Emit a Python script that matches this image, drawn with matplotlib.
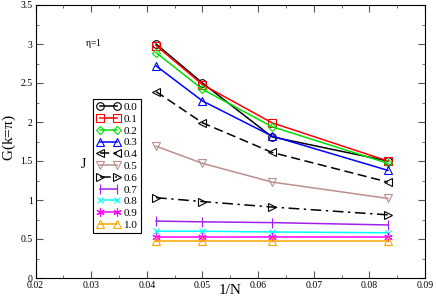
import numpy as np
import matplotlib
matplotlib.use('Agg')
from matplotlib import pyplot as plt
from matplotlib.ticker import MultipleLocator

plt.rcParams['font.family'] = ['Liberation Serif', 'DejaVu Serif']
plt.rcParams['mathtext.fontset'] = 'custom'
plt.rcParams['mathtext.rm'] = 'Liberation Serif'
plt.rcParams['mathtext.it'] = 'Liberation Serif'

# 1/N para N = 24, 20, 16, 12
inv_n = [1 / 24, 1 / 20, 1 / 16, 1 / 12]

j_labels = ['0.0', '0.1', '0.2', '0.3', '0.4', '0.5', '0.6', '0.7', '0.8', '0.9', '1.0']
g_j00 = [3.00, 2.50, 1.81, 1.50]
g_j01 = [2.98, 2.48, 1.99, 1.50]
g_j02 = [2.89, 2.42, 1.94, 1.47]
g_j03 = [2.72, 2.27, 1.82, 1.38]
g_j04 = [2.39, 1.99, 1.61, 1.23]
g_j05 = [1.69, 1.47, 1.23, 1.02]
g_j06 = [1.03, 0.98, 0.91, 0.81]
g_j07 = [0.73, 0.72, 0.71, 0.68]
g_j08 = [0.60, 0.60, 0.59, 0.58]
g_j09 = [0.52, 0.52, 0.52, 0.52]
g_j10 = [0.47, 0.47, 0.47, 0.47]
series = [g_j00, g_j01, g_j02, g_j03, g_j04, g_j05, g_j06, g_j07, g_j08, g_j09, g_j10]

cores = ['black', 'red', '#00e000', 'blue', 'black', '#bc8f8f', 'black',
         '#a020f0', 'cyan', 'magenta', 'orange']
marcadores = ['o', 's', 'D', '^', '<', 'v', '>', '|', 'x', (6, 2, 0), '^']
estilos = ['-', '-', '-', '-', (0, (6, 3)), '-', (0, (7, 3, 1.5, 3)), '-', '-', '-', '-']
tamanhos = [5.5, 5.5, 4.5, 5.5, 5.5, 5.5, 5.5, 7, 5, 6, 5.5]

fig = plt.figure(figsize=(4.36, 3.06), dpi=100)
ax = fig.add_axes([35.5 / 436, 1 - 278 / 306, 389.5 / 436, 273 / 306])

for vals, lab, c, m, ls, ms in zip(series, j_labels, cores, marcadores, estilos, tamanhos):
    ax.plot(inv_n, vals, color=c, linestyle=ls, marker=m, markersize=ms,
            markerfacecolor='none', markeredgecolor=c, markeredgewidth=0.8,
            linewidth=1.1, label=lab)

ax.set_xlim(0.02, 0.09)
ax.set_ylim(0, 3.5)
ax.xaxis.set_major_locator(MultipleLocator(0.01))
ax.xaxis.set_minor_locator(MultipleLocator(0.005))
ax.yaxis.set_major_locator(MultipleLocator(0.5))
ax.yaxis.set_minor_locator(MultipleLocator(0.25))
ax.set_xticklabels(['%g' % v for v in ax.get_xticks()])
ax.set_yticklabels(['%g' % v for v in ax.get_yticks()])
ax.tick_params(which='both', direction='in', top=True, right=True, labelsize=7,
               color='#555555')
ax.tick_params(axis='x', pad=2)
ax.tick_params(axis='y', pad=2)
ax.tick_params(which='major', length=5)
ax.tick_params(which='minor', length=2.5)

# rótulos dos eixos posicionados à mão
fig.text(230 / 436, 1 - 290 / 306, '1/N', fontsize=11, ha='center', va='center')
fig.text(9 / 436, 1 - 138 / 306, r'G(k=$\pi$)', fontsize=11, ha='center', va='center',
         rotation=90)

ax.text(0.0304, 3.01, r'$\eta$=1', fontsize=7, ha='center', va='center')

leg = ax.legend(loc='upper left', bbox_to_anchor=(93 / 436, 1 - 99 / 306),
                bbox_transform=fig.transFigure, fontsize=8, numpoints=2,
                handlelength=2.2, handletextpad=0.3, labelspacing=0.18,
                borderpad=0.3, fancybox=False, framealpha=1, edgecolor='black',
                borderaxespad=0)
leg.get_frame().set_linewidth(0.8)
fig.text(83 / 436, 1 - 165 / 306, 'J', fontsize=10, ha='center', va='center')

fig.savefig('out.png', dpi=100)
